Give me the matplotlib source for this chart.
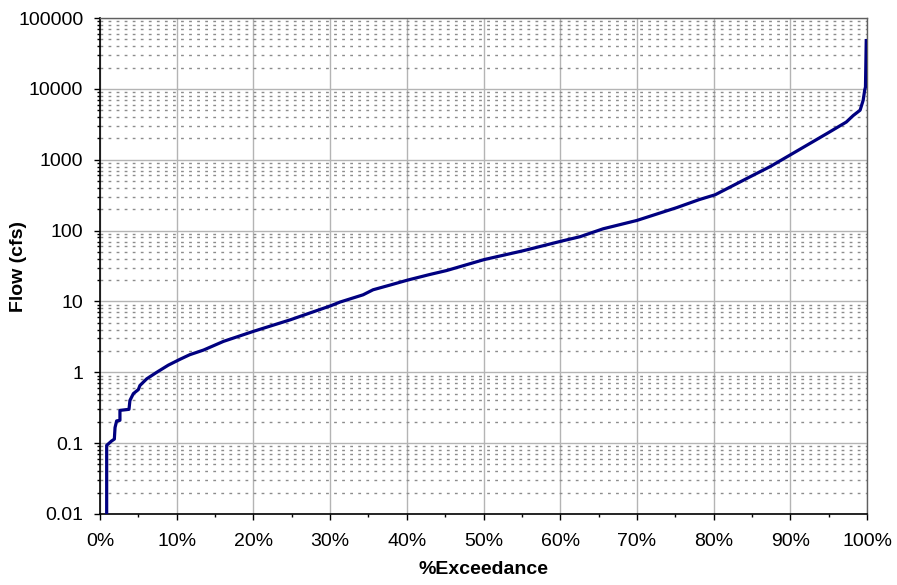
import matplotlib
matplotlib.use("Agg")
import matplotlib.pyplot as plt
from matplotlib.ticker import LogLocator, NullFormatter, FuncFormatter, PercentFormatter, MultipleLocator

plt.rcParams['font.family'] = ['Liberation Sans', 'DejaVu Sans']

# flow duration curve
exceedance = [0.87, 0.87, 1.5, 1.87, 1.96, 2.17, 2.6, 2.6, 3.78, 3.9, 4.35, 5.0, 5.2, 6.1,
              7.4, 8.9, 10.4, 11.7, 13.5, 16.1, 20.0, 24.8, 30.1, 31.3, 34.3, 35.6, 37.8,
              40.1, 43.0, 45.2, 50.1, 55.2, 60.1, 62.6, 65.6, 70.0, 75.2, 78.1, 80.2,
              84.7, 87.4, 90.0, 94.8, 97.3, 98.2, 99.1, 99.5, 99.7, 99.8, 99.9]
flow = [0.01, 0.093, 0.107, 0.114, 0.166, 0.206, 0.21, 0.29, 0.3, 0.40, 0.50, 0.57, 0.65, 0.81,
        1.0, 1.26, 1.52, 1.77, 2.06, 2.73, 3.78, 5.5, 8.7, 9.8, 12.4, 14.6, 17.0,
        20.0, 24.0, 27.3, 39, 52, 70.7, 82, 106, 139, 211, 273, 320,
        570, 803, 1170, 2350, 3400, 4200, 5000, 6900, 9600, 10600, 48000]

fig = plt.figure(figsize=(8.97, 5.85), dpi=100)
ax = fig.add_axes([100/897, 71/585, 767/897, 496/585])

ax.plot(exceedance, flow, color='#000080', lw=2.3, zorder=3)

ax.set_yscale('log')
ax.set_ylim(0.01, 100000)
ax.set_xlim(0, 100)

ax.yaxis.set_major_locator(LogLocator(base=10, numticks=10))
ax.yaxis.set_minor_locator(LogLocator(base=10, subs=range(2, 10), numticks=20))
ax.yaxis.set_minor_formatter(NullFormatter())
ax.yaxis.set_major_formatter(FuncFormatter(lambda v, p: f'{v:.0f}' if v >= 1 else f'{v:g}'))

ax.xaxis.set_major_locator(MultipleLocator(10))
ax.xaxis.set_minor_locator(MultipleLocator(5))
ax.xaxis.set_major_formatter(PercentFormatter(xmax=100, decimals=0))
ax.xaxis.offsetText.set_visible(False)
ax.yaxis.offsetText.set_visible(False)

ax.grid(which='major', color='#b4b4b4', lw=1.0, ls='-')
ax.grid(which='minor', axis='y', color='#8c8c8c', lw=1.0, ls=(0, (2.0, 3.8)))
ax.set_axisbelow(True)

ax.tick_params(which='major', direction='out', length=4, width=1, labelsize=14, color='black')
ax.tick_params(which='minor', direction='out', length=2.5, width=1, color='black')
ax.tick_params(axis='y', which='major', pad=8)
ax.tick_params(axis='x', which='major', pad=10)

for s in ['left', 'bottom']:
    ax.spines[s].set_color('black')
    ax.spines[s].set_linewidth(1.2)
for s in ['top', 'right']:
    ax.spines[s].set_color('#606060')
    ax.spines[s].set_linewidth(1.0)

ax.set_xlabel('%Exceedance', fontsize=14, fontweight='bold')
ax.set_ylabel('Flow (cfs)', fontsize=14, fontweight='bold')
ax.xaxis.set_label_coords(0.5, -0.094)
ax.yaxis.set_label_coords(-0.095, 0.5)

fig.savefig('out.png', dpi=100)
